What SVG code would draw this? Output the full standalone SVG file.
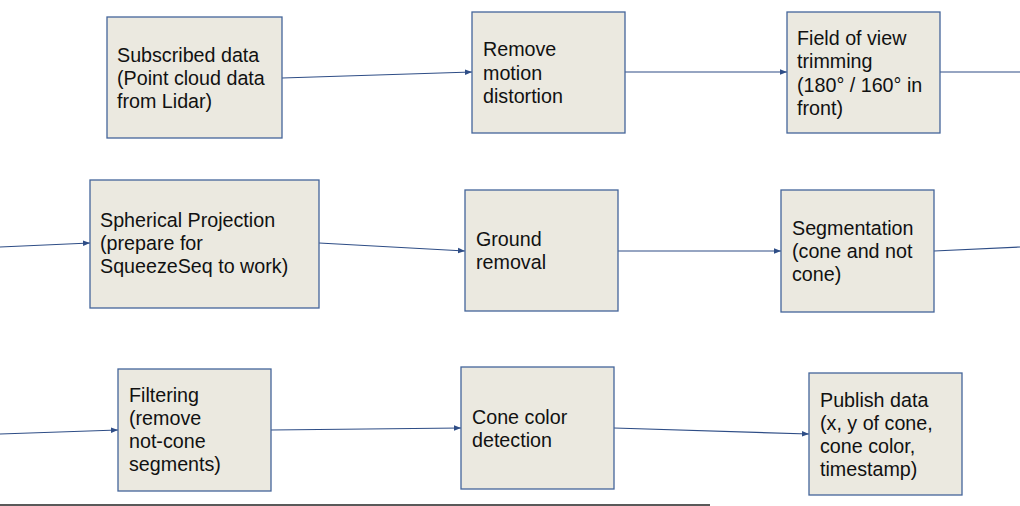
<svg xmlns="http://www.w3.org/2000/svg" width="1020" height="506" viewBox="0 0 1020 506">
<defs>
<marker id="arr" viewBox="0 0 10 10" refX="10" refY="5" markerWidth="7" markerHeight="7" markerUnits="userSpaceOnUse" orient="auto">
<path d="M0,1 L10,5 L0,9 Z" fill="#2e4d86"/>
</marker>
<style>
.box{fill:#ebe9e0;stroke:#44659a;stroke-width:1.3}
.t{font-family:"Liberation Sans",Arial,sans-serif;font-size:19.7px;fill:#111}
.c{fill:none;stroke:#2e4d86;stroke-width:1.2}
</style>
</defs>
<rect width="1020" height="506" fill="#fff"/>
<g id="connectors">
<line class="c" x1="282" y1="78" x2="472" y2="72" marker-end="url(#arr)"/>
<line class="c" x1="625" y1="72" x2="787" y2="72" marker-end="url(#arr)"/>
<line class="c" x1="940" y1="72" x2="1020" y2="72"/>
<line class="c" x1="0" y1="247" x2="90" y2="243" marker-end="url(#arr)"/>
<line class="c" x1="319" y1="243" x2="465" y2="251" marker-end="url(#arr)"/>
<line class="c" x1="618" y1="251" x2="781" y2="251" marker-end="url(#arr)"/>
<line class="c" x1="934" y1="251" x2="1020" y2="247"/>
<line class="c" x1="0" y1="434" x2="118" y2="430" marker-end="url(#arr)"/>
<line class="c" x1="271" y1="430" x2="461" y2="428" marker-end="url(#arr)"/>
<line class="c" x1="614" y1="428" x2="809" y2="434" marker-end="url(#arr)"/>
</g>
<g id="n1"><rect class="box" x="107" y="17" width="175" height="121"/>
<text class="t" x="117" y="62">Subscribed data</text><text class="t" x="117" y="85">(Point cloud data</text><text class="t" x="117" y="108">from Lidar)</text></g>
<g id="n2"><rect class="box" x="472" y="12" width="153" height="121"/>
<text class="t" x="483" y="56">Remove</text><text class="t" x="483" y="80">motion</text><text class="t" x="483" y="103">distortion</text></g>
<g id="n3"><rect class="box" x="787" y="12" width="153" height="121"/>
<text class="t" x="797" y="45">Field of view</text><text class="t" x="797" y="68">trimming</text><text class="t" x="797" y="92">(180° / 160° in</text><text class="t" x="797" y="115">front)</text></g>
<g id="n4"><rect class="box" x="90" y="180" width="229" height="128"/>
<text class="t" x="100" y="227">Spherical Projection</text><text class="t" x="100" y="250">(prepare for</text><text class="t" x="100" y="273">SqueezeSeq to work)</text></g>
<g id="n5"><rect class="box" x="465" y="190" width="153" height="121"/>
<text class="t" x="476" y="246">Ground</text><text class="t" x="476" y="269">removal</text></g>
<g id="n6"><rect class="box" x="781" y="190" width="153" height="122"/>
<text class="t" x="792" y="235">Segmentation</text><text class="t" x="792" y="258">(cone and not</text><text class="t" x="792" y="281">cone)</text></g>
<g id="n7"><rect class="box" x="118" y="369" width="153" height="122"/>
<text class="t" x="129" y="402">Filtering</text><text class="t" x="129" y="425">(remove</text><text class="t" x="129" y="448">not-cone</text><text class="t" x="129" y="471">segments)</text></g>
<g id="n8"><rect class="box" x="461" y="367" width="153" height="122"/>
<text class="t" x="472" y="424">Cone color</text><text class="t" x="472" y="447">detection</text></g>
<g id="n9"><rect class="box" x="809" y="373" width="153" height="122"/>
<text class="t" x="820" y="407">Publish data</text><text class="t" x="820" y="430">(x, y of cone,</text><text class="t" x="820" y="453">cone color,</text><text class="t" x="820" y="476">timestamp)</text></g>
<line x1="0" y1="505" x2="710" y2="505" stroke="#222" stroke-width="1.5"/>
</svg>
